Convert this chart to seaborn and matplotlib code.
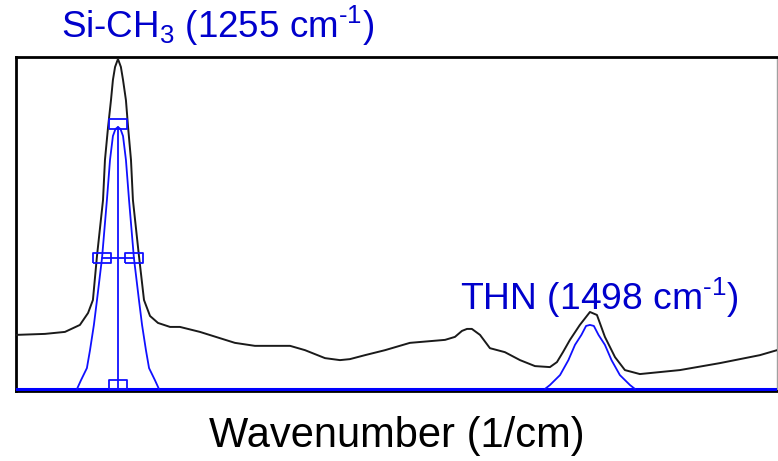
import matplotlib
matplotlib.use("Agg")
import matplotlib.pyplot as plt
import seaborn as sns

# Measured spectrum (black) in the 1200-1600 cm-1 window
spec_wn = [1202.5, 1217.4, 1227.7, 1235.4, 1239.6, 1242.1, 1244.2, 1247.3, 1248.3,
           1249.9, 1251.4, 1252.4, 1253.5, 1255.0, 1256.5, 1257.6, 1259.1, 1260.2,
           1261.7, 1262.7, 1265.8, 1268.4, 1271.5, 1275.6, 1281.8, 1286.9, 1297.2,
           1315.2, 1325.5, 1343.6, 1351.3, 1361.6, 1369.3, 1374.4, 1382.2, 1392.5,
           1405.3, 1423.4, 1428.5, 1432.1, 1434.7, 1437.2, 1441.4, 1446.5, 1454.2,
           1462.0, 1469.7, 1477.4, 1481.0, 1484.1, 1487.7, 1492.8, 1498.0, 1501.6,
           1505.7, 1510.9, 1516.0, 1523.7, 1544.3, 1564.9, 1585.5, 1594.3]
spec_abs = [0.163, 0.166, 0.172, 0.193, 0.229, 0.268, 0.401, 0.569, 0.690,
            0.789, 0.870, 0.931, 0.970, 0.994, 0.970, 0.931, 0.870, 0.789,
            0.690, 0.569, 0.401, 0.268, 0.220, 0.199, 0.187, 0.187, 0.172,
            0.139, 0.130, 0.130, 0.117, 0.093, 0.087, 0.090, 0.102, 0.117,
            0.139, 0.148, 0.157, 0.175, 0.181, 0.181, 0.163, 0.123, 0.111,
            0.087, 0.069, 0.066, 0.081, 0.111, 0.148, 0.193, 0.232, 0.223,
            0.157, 0.096, 0.057, 0.045, 0.057, 0.078, 0.102, 0.117]

# Fitted Si-CH3 band (blue)
sich3_wn = [1233.9, 1236.0, 1239.0, 1240.6, 1242.6, 1244.2, 1246.8, 1249.3, 1250.9,
            1252.4, 1253.7, 1255.0, 1256.3, 1257.6, 1259.1, 1260.7, 1263.2, 1265.8,
            1267.4, 1269.4, 1271.0, 1274.0, 1276.1]
sich3_abs = [0.0, 0.027, 0.063, 0.117, 0.193, 0.268, 0.395, 0.569, 0.690,
             0.762, 0.783, 0.789, 0.783, 0.762, 0.690, 0.569, 0.395, 0.268,
             0.193, 0.117, 0.063, 0.027, 0.0]

# Fitted THN band (blue)
thn_wn = [1474.8, 1477.4, 1482.6, 1486.9, 1490.3, 1493.6, 1496.0, 1498.0,
          1500.0, 1502.4, 1505.7, 1509.1, 1513.4, 1518.6, 1521.2]
thn_abs = [0.0, 0.012, 0.042, 0.087, 0.133, 0.163, 0.190, 0.193,
           0.190, 0.163, 0.133, 0.087, 0.042, 0.012, 0.0]

# Peak handles of the selected band: centre, height, half-height crossings
peak_center = 1255.0
peak_height = 0.789
half_left = 1246.8
half_right = 1263.2

label_sich3 = r"Si-CH$_3$ (1255 cm$^{\text{-1}}$)"
label_thn = r"THN (1498 cm$^{\text{-1}}$)"
x_label = "Wavenumber (1/cm)"

sns.set_style("white")
plt.rcParams["font.family"] = ["Liberation Sans", "DejaVu Sans"]
plt.rcParams["mathtext.fontset"] = "custom"
plt.rcParams["mathtext.rm"] = "Liberation Sans"
plt.rcParams["mathtext.it"] = "Liberation Sans:italic"
plt.rcParams["mathtext.bf"] = "Liberation Sans:bold"

W, H = 778, 461
fig = plt.figure(figsize=(W / 100, H / 100), dpi=100)
ax = fig.add_axes([16 / W, (H - 391) / H, 761 / W, 334 / H])

band_blue = "#1010ff"
text_blue = "#0000cc"

# zero baseline of the fit
ax.axhline(0.0, color="#0000ff", lw=2.2, zorder=3)

sns.lineplot(x=spec_wn, y=spec_abs, ax=ax, color="#1a1a1a", lw=1.4,
             sort=False, estimator=None, zorder=4)
sns.lineplot(x=sich3_wn, y=sich3_abs, ax=ax, color=band_blue, lw=1.3,
             sort=False, estimator=None, zorder=5)
sns.lineplot(x=thn_wn, y=thn_abs, ax=ax, color=band_blue, lw=1.3,
             sort=False, estimator=None, zorder=5)

# handles on the selected band
ax.plot([peak_center, peak_center], [0.0, peak_height], color=band_blue, lw=1.3, zorder=5)
ax.plot([half_left, half_right], [peak_height / 2, peak_height / 2],
        color=band_blue, lw=1.3, zorder=5)
box = [(-1, -0.5), (1, -0.5), (1, 0.5), (-1, 0.5), (-1, -0.5)]
box_up = [(-1, 0), (1, 0), (1, 1), (-1, 1), (-1, 0)]
ax.plot([peak_center, half_left, half_right],
        [peak_height + 0.008, peak_height / 2, peak_height / 2],
        ls="none", marker=box, ms=13.5, mfc="none", mec=band_blue, mew=1.3, zorder=6)
ax.plot([peak_center], [0.0], ls="none", marker=box_up, ms=13.5,
        mfc="none", mec=band_blue, mew=1.3, zorder=6, clip_on=False)

ax.set_xlim(1202.5, 1594.3)
ax.set_ylim(-0.006, 1.0)
ax.set_xticks([])
ax.set_yticks([])

for side in ["left", "top", "bottom"]:
    ax.spines[side].set_color("black")
    ax.spines[side].set_linewidth(2.0)
ax.spines["right"].set_color("#a0a0a0")
ax.spines["right"].set_linewidth(1.0)

ax.text(1225.7, 1.057, label_sich3, color=text_blue, fontsize=26.5,
        ha="left", va="baseline", clip_on=False)
ax.text(1431.1, 0.238, label_thn, color=text_blue, fontsize=26.8,
        ha="left", va="baseline", zorder=7)

ax.set_xlabel(x_label, fontsize=30, color="black", va="baseline")
ax.xaxis.set_label_coords(0.5, -56 / 334)

fig.savefig("out.png", dpi=100)
